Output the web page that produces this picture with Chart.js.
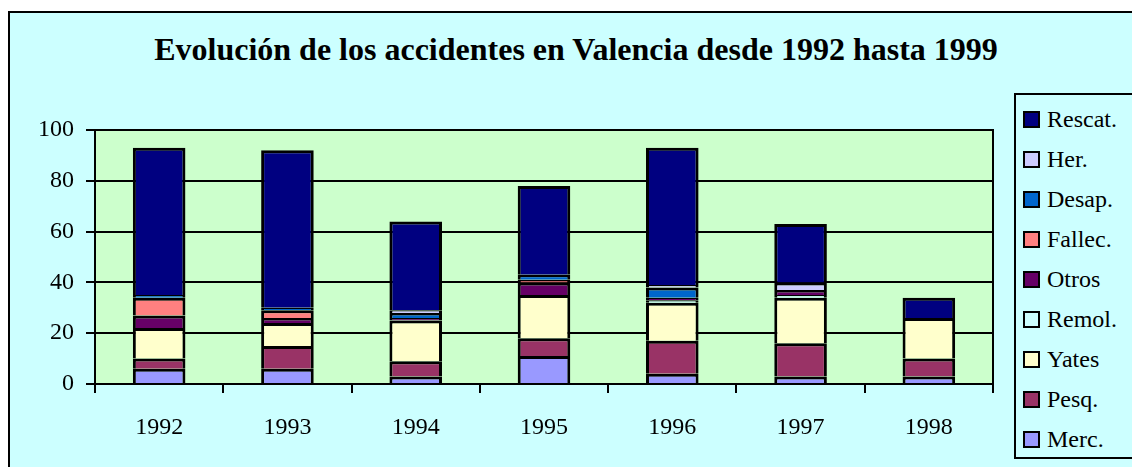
<!DOCTYPE html>
<html>
<head>
<meta charset="utf-8">
<script src="https://cdn.jsdelivr.net/npm/chart.js"></script>
<style>
  body { margin: 0; background: #fff; width: 1132px; height: 467px; overflow: hidden; position: relative; font-family: 'Liberation Serif', 'Times New Roman', serif; }
  .frame { position: absolute; left: 8px; top: 11px; width: 1140px; height: 470px; border: 2px solid #000; background: #CCFFFF; }
  .title { position: absolute; left: 0; width: 1152px; top: 31px; text-align: center; font-weight: bold; font-size: 32px; line-height: 37px; color: #000; }
  canvas { position: absolute; left: 0; top: 0; }
  .legend { position: absolute; left: 1014px; top: 93px; width: 130px; height: 362px; border: 2px solid #000; background: #CCFFFF; }
  .item { position: absolute; left: 7px; height: 24px; font-size: 24px; line-height: 24px; color: #000; white-space: nowrap; }
  .swatch { display: inline-block; width: 13px; height: 13px; border: 2px solid #000; vertical-align: middle; margin-right: 7px; position: relative; top: -2px; }
</style>
</head>
<body>
<div class="frame"></div>
<div class="title">Evolución de los accidentes en Valencia desde 1992 hasta 1999</div>
<canvas id="myChart" width="1132" height="467"></canvas>
<div class="legend" id="legend"></div>
<script>
const years = ['1992', '1993', '1994', '1995', '1996', '1997', '1998'];
const seriesNames = ['Merc.', 'Pesq.', 'Yates', 'Remol.', 'Otros', 'Fallec.', 'Desap.', 'Her.', 'Rescat.'];
const merc = [6, 6, 3, 11, 4, 3, 3];
const pesq = [4, 9, 6, 7, 13, 13, 7];
const yates = [12, 9, 16, 17, 15, 18, 16];
const remol = [0, 0, 0, 0, 1, 1, 0];
const otros = [5, 2, 1, 5, 1, 2, 0];
const fallec = [7, 3, 0, 1, 0, 0, 0];
const desap = [1, 1, 2, 2, 4, 0, 0];
const her = [0, 0, 1, 0, 1, 3, 0];
const rescat = [58, 62, 35, 35, 54, 23, 8];
const yTicks = [0, 20, 40, 60, 80, 100];

const colors = ['#9999FF', '#993366', '#FFFFCC', '#CCFFFF', '#660066', '#FF8080', '#0066CC', '#CCCCFF', '#000080'];
const values = [merc, pesq, yates, remol, otros, fallec, desap, her, rescat];
const font = "'Liberation Serif', 'Times New Roman', serif";

const datasets = seriesNames.map((name, i) => ({
  label: name,
  data: values[i],
  backgroundColor: colors[i],
  borderColor: '#000',
  borderWidth: 3,
  borderSkipped: 'start',
  categoryPercentage: 1,
  barPercentage: 0.41
}));

// green plot area and its frame
const plotArea = {
  id: 'plotArea',
  beforeDraw(chart) {
    const { ctx, chartArea: a } = chart;
    ctx.save();
    ctx.fillStyle = '#CCFFCC';
    ctx.fillRect(a.left, a.top, a.right - a.left, a.bottom - a.top);
    ctx.restore();
  },
  afterDraw(chart) {
    const { ctx, chartArea: a } = chart;
    ctx.save();
    ctx.strokeStyle = '#000';
    ctx.lineWidth = 2;
    ctx.strokeRect(a.left, a.top, a.right - a.left, a.bottom - a.top);
    ctx.restore();
  }
};

const ctx = document.getElementById('myChart');
const myChart = new Chart(ctx, {
  type: 'bar',
  data: { labels: years, datasets: datasets },
  options: {
    responsive: false,
    animation: false,
    layout: { padding: { left: 0, top: 130, right: 139, bottom: 23 } },
    plugins: { legend: { display: false }, tooltip: { enabled: false } },
    scales: {
      x: {
        stacked: true,
        grid: { display: true, drawOnChartArea: false, color: '#000', lineWidth: 2, tickLength: 9, offset: true },
        border: { color: '#000', width: 2 },
        ticks: { color: '#000', font: { family: font, size: 24 }, padding: 20 },
        afterFit(scale) { scale.height = 60; }
      },
      y: {
        stacked: true,
        min: 0,
        max: 100,
        afterBuildTicks(scale) { scale.ticks = yTicks.map(v => ({ value: v })); },
        grid: { color: '#000', lineWidth: 2, tickLength: 9 },
        border: { color: '#000', width: 2 },
        ticks: { color: '#000', font: { family: font, size: 24 }, padding: 12 },
        afterFit(scale) { scale.width = 95; }
      }
    }
  },
  plugins: [plotArea]
});

// legend, top to bottom in reverse stacking order
const legend = document.getElementById('legend');
myChart.data.datasets.slice().reverse().forEach((ds, i) => {
  const item = document.createElement('div');
  item.className = 'item';
  item.style.top = (12 + i * 40) + 'px';
  item.innerHTML = '<span class="swatch" style="background:' + ds.backgroundColor + '"></span>' + ds.label;
  legend.appendChild(item);
});
</script>
</body>
</html>
